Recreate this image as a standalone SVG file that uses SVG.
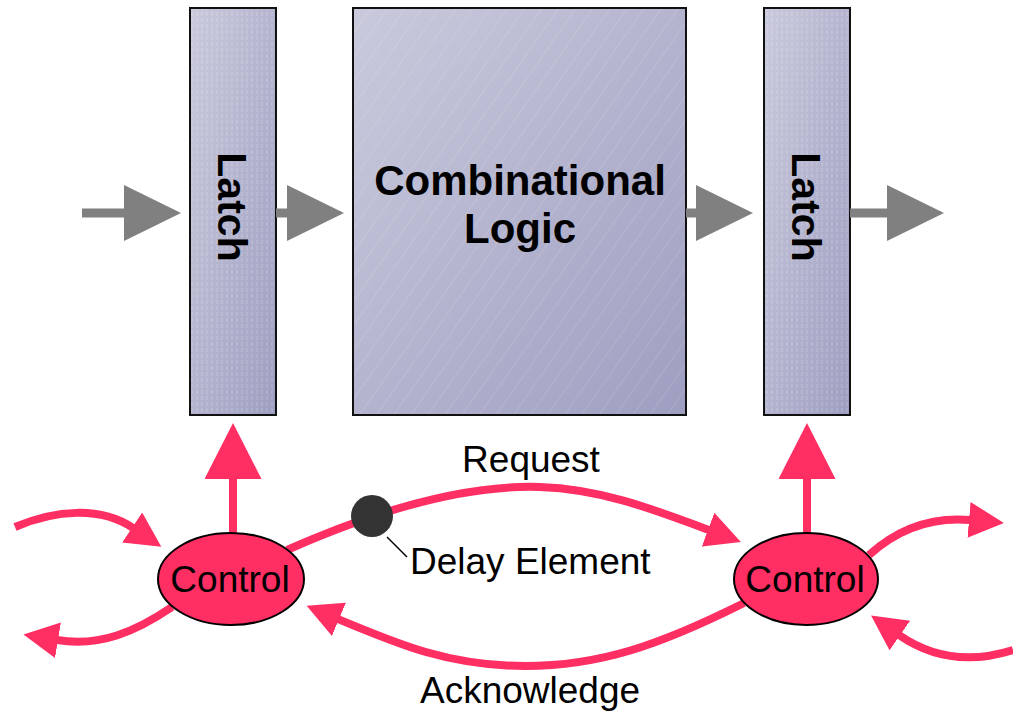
<svg xmlns="http://www.w3.org/2000/svg" width="1013" height="712" viewBox="0 0 1013 712">
<style>
.box{stroke:#111;stroke-width:2}
.lbl{font-family:"Liberation Sans",Arial,sans-serif;font-size:37px;fill:#000}
.bold{font-family:"Liberation Sans",Arial,sans-serif;font-weight:bold;fill:#000}
.data{stroke:#808080;stroke-width:9;fill:none}
.ctl{stroke:#ff2e63;stroke-width:8;fill:none}
.ctrl{fill:#ff2e63;stroke:#000;stroke-width:2}
</style>
<defs>
<linearGradient id="g" x1="0" y1="0" x2="1" y2="1">
<stop offset="0" stop-color="#cacadd"/>
<stop offset="1" stop-color="#9e9ec1"/>
</linearGradient>
<pattern id="diag" width="14" height="14" patternUnits="userSpaceOnUse" patternTransform="rotate(35)">
<line x1="0" y1="0" x2="0" y2="14" stroke="#ffffff" stroke-opacity="0.25" stroke-width="1"/>
</pattern>
<pattern id="vert" width="5" height="6" patternUnits="userSpaceOnUse">
<line x1="2" y1="0" x2="2" y2="4" stroke="#ffffff" stroke-opacity="0.25" stroke-width="1"/>
</pattern>
<marker id="hg" markerUnits="userSpaceOnUse" markerWidth="58" markerHeight="57" refX="1" refY="28" orient="auto">
<path d="M0,0 L57,28 L0,56 z" fill="#808080"/>
</marker>
<marker id="hpb" markerUnits="userSpaceOnUse" markerWidth="58" markerHeight="58" refX="1" refY="28.5" orient="auto">
<path d="M0,0 L56,28.5 L0,57 z" fill="#ff2e63"/>
</marker>
<marker id="hps" markerUnits="userSpaceOnUse" markerWidth="37" markerHeight="37" refX="1" refY="18" orient="auto">
<path d="M0,0 L35,18 L0,36 z" fill="#ff2e63"/>
</marker>
</defs>

<g id="latch1">
<rect class="box" x="190" y="8" width="86" height="407" fill="url(#g)"/>
<rect x="191" y="9" width="84" height="405" fill="url(#vert)"/>
<text class="bold" font-size="41" text-anchor="middle" transform="translate(218,207) rotate(90)">Latch</text>
</g>
<g id="comb">
<rect class="box" x="353" y="8" width="333" height="407" fill="url(#g)"/>
<rect x="354" y="9" width="331" height="405" fill="url(#diag)"/>
<text class="bold" font-size="42" text-anchor="middle" x="520" y="195">Combinational</text>
<text class="bold" font-size="42" text-anchor="middle" x="520" y="243">Logic</text>
</g>
<g id="latch2">
<rect class="box" x="764" y="8" width="86" height="407" fill="url(#g)"/>
<rect x="765" y="9" width="84" height="405" fill="url(#vert)"/>
<text class="bold" font-size="41" text-anchor="middle" transform="translate(792,207) rotate(90)">Latch</text>
</g>

<g id="connectors">
<path class="data" d="M82,213 L125,213" marker-end="url(#hg)"/>
<path class="data" d="M276,213 L288,213" marker-end="url(#hg)"/>
<path class="data" d="M686,213 L697,213" marker-end="url(#hg)"/>
<path class="data" d="M850,213 L888,213" marker-end="url(#hg)"/>
<path class="ctl" d="M233,535 L233,478" marker-end="url(#hpb)"/>
<path class="ctl" d="M807,535 L807,478" marker-end="url(#hpb)"/>
<path class="ctl" d="M287,550 C400,500 480,485 540,487 C600,489 650,508 709,530" marker-end="url(#hps)"/>
<path class="ctl" d="M744,603 C660,645 600,666 525,666 C450,666 400,645 338,619" marker-end="url(#hps)"/>
<path class="ctl" d="M15,527 C55,510 100,506 133,528" marker-end="url(#hps)"/>
<path class="ctl" d="M172,607 C135,632 100,647 57,640" marker-end="url(#hps)"/>
<path class="ctl" d="M869,555 C900,527 935,517 970,520" marker-end="url(#hps)"/>
<path class="ctl" d="M1013,650 C975,662 935,660 899,635" marker-end="url(#hps)"/>
<line x1="387" y1="537" x2="407" y2="557" stroke="#000" stroke-width="1.5"/>
</g>

<g id="control1">
<ellipse class="ctrl" cx="231" cy="579" rx="73" ry="46"/>
<text class="lbl" text-anchor="middle" x="230" y="592">Control</text>
</g>
<g id="control2">
<ellipse class="ctrl" cx="806" cy="579" rx="72" ry="46"/>
<text class="lbl" text-anchor="middle" x="805" y="592">Control</text>
</g>
<g id="delay">
<circle cx="372" cy="516" r="21" fill="#333333"/>
<text class="lbl" x="410" y="574">Delay Element</text>
</g>
<g id="labels">
<text class="lbl" text-anchor="middle" x="531" y="472">Request</text>
<text class="lbl" text-anchor="middle" x="530" y="703">Acknowledge</text>
</g>
</svg>
